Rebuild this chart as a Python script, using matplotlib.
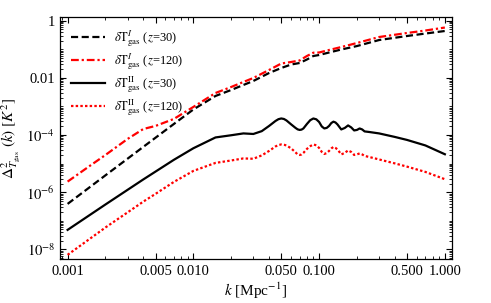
import numpy as np
import matplotlib
matplotlib.use("Agg")
import matplotlib.pyplot as plt
from matplotlib.ticker import FixedLocator, FixedFormatter, LogLocator, NullFormatter

plt.rcParams['font.family'] = ['Liberation Serif', 'DejaVu Serif']
plt.rcParams['mathtext.fontset'] = 'stix'

# --- data ---
k_I30 = [0.001, 0.002, 0.004, 0.007, 0.01, 0.015, 0.02, 0.025, 0.03, 0.04, 0.05, 0.06,
         0.07, 0.08, 0.09, 0.1, 0.12, 0.15, 0.2, 0.3, 0.5, 0.7, 1.0]
d_I30 = [3.90e-7, 3.90e-6, 3.86e-5, 2.44e-4, 7.85e-4, 2.33e-3, 3.78e-3, 5.65e-3, 7.80e-3,
         1.48e-2, 2.22e-2, 2.94e-2, 3.32e-2, 4.40e-2, 5.83e-2, 6.32e-2, 7.73e-2, 9.84e-2,
         0.130, 0.211, 0.292, 0.356, 0.437]

k_I120 = [0.001, 0.0015, 0.002, 0.003, 0.004, 0.005, 0.007, 0.01, 0.015, 0.02, 0.025, 0.03,
          0.04, 0.05, 0.06, 0.07, 0.08, 0.09, 0.1, 0.12, 0.15, 0.2, 0.3, 0.5, 0.7, 1.0]
d_I120 = [2.35e-6, 8.32e-6, 2.01e-5, 7.31e-5, 1.63e-4, 2.08e-4, 3.66e-4, 9.62e-4, 2.96e-3,
          4.81e-3, 7.19e-3, 9.93e-3, 1.89e-2, 3.18e-2, 3.60e-2, 4.06e-2, 5.83e-2, 7.60e-2,
          7.73e-2, 9.46e-2, 0.120, 0.166, 0.269, 0.372, 0.454, 0.578]

k_II30 = [0.001, 0.002, 0.004, 0.007, 0.01, 0.015, 0.02, 0.025, 0.03, 0.035, 0.04, 0.045,
          0.0475, 0.05, 0.0525, 0.055, 0.06, 0.065, 0.0675, 0.07, 0.0725, 0.075, 0.08, 0.085,
          0.09, 0.095, 0.1, 0.105, 0.11, 0.115, 0.12, 0.125, 0.13, 0.135, 0.14,
          0.15, 0.16, 0.17, 0.18, 0.19, 0.2, 0.21, 0.22, 0.23, 0.25, 0.3, 0.4, 0.5, 0.7, 1.0]
d_II30 = [4.81e-8, 3.72e-7, 2.80e-6, 1.36e-5, 3.45e-5, 8.24e-5, 9.84e-5, 1.14e-4, 1.09e-4,
          1.37e-4, 2.08e-4, 3.11e-4, 3.59e-4, 3.80e-4, 3.65e-4, 3.24e-4, 2.35e-4, 1.77e-4,
          1.58e-4, 1.51e-4, 1.55e-4, 1.70e-4, 2.44e-4, 3.31e-4, 3.80e-4, 3.55e-4, 2.87e-4,
          2.00e-4, 1.70e-4, 1.78e-4, 2.08e-4, 2.63e-4, 2.94e-4, 2.75e-4, 2.35e-4,
          1.57e-4, 1.77e-4, 2.17e-4, 1.85e-4, 1.45e-4, 1.51e-4, 1.70e-4, 1.57e-4, 1.34e-4,
          1.28e-4, 1.14e-4, 8.59e-5, 6.75e-5, 4.33e-5, 2.13e-5]

k_II120 = [0.001, 0.002, 0.003, 0.004, 0.005, 0.007, 0.01, 0.015, 0.02, 0.025, 0.03, 0.035,
           0.04, 0.045, 0.0475, 0.05, 0.0525, 0.055, 0.06, 0.065, 0.0675, 0.07, 0.0725, 0.075,
           0.08, 0.085, 0.09, 0.095, 0.1, 0.105, 0.11, 0.115, 0.12, 0.125, 0.13, 0.135, 0.14,
           0.15, 0.16, 0.17, 0.18, 0.19, 0.2, 0.21, 0.22, 0.23, 0.25, 0.3, 0.4, 0.5, 0.7, 1.0]
d_II120 = [6.43e-9, 5.83e-8, 1.97e-7, 4.69e-7, 8.73e-7, 2.29e-6, 5.56e-6, 1.06e-5, 1.29e-5,
           1.52e-5, 1.48e-5, 1.94e-5, 2.78e-5, 3.99e-5, 4.47e-5, 4.69e-5, 4.57e-5, 4.33e-5,
           3.40e-5, 2.47e-5, 2.09e-5, 2.01e-5, 2.09e-5, 2.37e-5, 3.27e-5, 4.07e-5, 4.69e-5,
           4.37e-5, 3.54e-5, 2.57e-5, 2.18e-5, 2.34e-5, 2.78e-5, 3.39e-5, 3.84e-5, 3.55e-5,
           3.14e-5, 2.10e-5, 2.37e-5, 2.90e-5, 2.56e-5, 2.01e-5, 2.10e-5, 2.28e-5, 2.10e-5,
           1.86e-5, 1.71e-5, 1.40e-5, 1.02e-5, 7.85e-6, 5.13e-6, 2.85e-6]

labels = [r"$\delta\mathrm{T}^{I}_{\mathrm{gas}}$ ($z$=30)",
          r"$\delta\mathrm{T}^{I}_{\mathrm{gas}}$ ($z$=120)",
          r"$\delta\mathrm{T}^{\mathrm{II}}_{\mathrm{gas}}$ ($z$=30)",
          r"$\delta\mathrm{T}^{\mathrm{II}}_{\mathrm{gas}}$ ($z$=120)"]

xticks = [0.001, 0.005, 0.01, 0.05, 0.1, 0.5, 1.0]
xticklabels = ["0.001", "0.005", "0.010", "0.050", "0.100", "0.500", "1.000"]
yticks = [1e-8, 1e-6, 1e-4, 1e-2, 1]
yticklabels = [r"$10^{-8}$", r"$10^{-6}$", r"$10^{-4}$", "0.01", "1"]

fig = plt.figure(figsize=(4.91, 3.03), dpi=100)
ax = fig.add_axes([0.1222, 0.1452, 0.7984, 0.7987])

ax.plot(k_I30, d_I30, color='black', lw=1.6, ls=(0, (3.2, 1.6)), label=labels[0])
ax.plot(k_I120, d_I120, color='#ff0000', lw=1.6, ls=(0, (3.5, 1.3, 1.0, 1.3)), label=labels[1])
ax.plot(k_II30, d_II30, color='black', lw=1.6, ls='-', label=labels[2])
ax.plot(k_II120, d_II120, color='#ff0000', lw=1.6, ls=(0, (1.1, 1.0)), label=labels[3])

ax.set_xscale('log')
ax.set_yscale('log')
ax.set_xlim(8.7e-4, 1.14)
ax.set_ylim(4.6e-9, 1.35)

ax.xaxis.set_major_locator(FixedLocator(xticks))
ax.xaxis.set_major_formatter(FixedFormatter(xticklabels))
ax.xaxis.set_minor_locator(LogLocator(base=10, subs=np.arange(1, 10)))
ax.xaxis.set_minor_formatter(NullFormatter())
ax.yaxis.set_major_locator(FixedLocator(yticks))
ax.yaxis.set_major_formatter(FixedFormatter(yticklabels))
ax.yaxis.set_minor_locator(LogLocator(base=10, subs=np.arange(1, 10), numticks=30))
ax.yaxis.set_minor_formatter(NullFormatter())

ax.tick_params(which='both', direction='in', top=True, right=True, labelsize=10.5)
ax.tick_params(which='major', length=4.5, width=0.8)
ax.tick_params(which='minor', length=2.5, width=0.6)
ax.tick_params(axis='x', pad=4)
for s in ax.spines.values():
    s.set_linewidth(0.9)

ax.set_xlabel(r"$k$ [Mpc$^{-1}$]", fontsize=11, labelpad=2)
ax.set_ylabel(r"$\Delta^{2}_{T_{\mathrm{gas}}}\ (k)\ [K^{2}]$", fontsize=11, labelpad=3)

leg = ax.legend(loc='upper left', bbox_to_anchor=(0.0, 1.0), frameon=False, fontsize=9,
                handlelength=2.7, handletextpad=0.7, labelspacing=0.2, borderaxespad=0.5)

fig.savefig("out.png", dpi=100)
